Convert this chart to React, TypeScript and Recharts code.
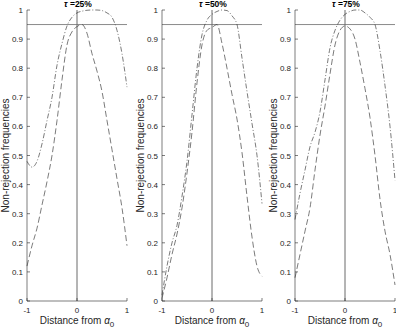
import { LineChart, Line, XAxis, YAxis, ReferenceLine } from "recharts";

const distance = [-1, -0.9, -0.8, -0.7, -0.6, -0.5, -0.4, -0.3, -0.2, -0.1, 0, 0.1, 0.2, 0.3, 0.4, 0.5, 0.6, 0.7, 0.8, 0.9, 1];

const tau25Dashed = [0.12, 0.19, 0.25, 0.33, 0.41, 0.5, 0.62, 0.76, 0.88, 0.925, 0.943, 0.95, 0.92, 0.85, 0.79, 0.72, 0.62, 0.52, 0.42, 0.32, 0.19];
const tau25DashDot = [0.48, 0.46, 0.48, 0.54, 0.62, 0.7, 0.81, 0.885, 0.945, 0.975, 0.99, 0.996, 0.999, 1.0, 1.0, 0.998, 0.99, 0.975, 0.93, 0.85, 0.735];

const tau50Dashed = [0.01, 0.08, 0.16, 0.23, 0.32, 0.44, 0.58, 0.75, 0.88, 0.93, 0.94, 0.95, 0.885, 0.8, 0.71, 0.625, 0.51, 0.36, 0.22, 0.12, 0.085];
const tau50DashDot = [0.02, 0.12, 0.2, 0.26, 0.36, 0.48, 0.64, 0.8, 0.915, 0.965, 0.985, 0.995, 1.0, 0.998, 0.98, 0.95, 0.835, 0.72, 0.61, 0.5, 0.335];

const tau75Dashed = [0.08, 0.16, 0.24, 0.32, 0.45, 0.57, 0.67, 0.78, 0.88, 0.93, 0.945, 0.935, 0.9, 0.82, 0.73, 0.63, 0.5, 0.35, 0.24, 0.16, 0.055];
const tau75DashDot = [0.28, 0.37, 0.45, 0.53, 0.58, 0.65, 0.76, 0.87, 0.93, 0.965, 0.985, 0.995, 1.0, 1.0, 0.99, 0.975, 0.95, 0.86, 0.74, 0.6, 0.415];

const panelTaus = ["25%", "50%", "75%"];
const yTicks = [0, 0.1, 0.2, 0.3, 0.4, 0.5, 0.6, 0.7, 0.8, 0.9, 1];
const xTicks = [-1, 0, 1];
const nominalLevel = 0.95;

const FONT = '"Liberation Sans", Arial, sans-serif';
const AXIS = "#262626";
const CURVE = "#333";

const YTick = (props: any) => {
  const { x, y, payload } = props;
  return (
    <g>
      <line x1={x + 4} y1={y} x2={x + 7} y2={y} stroke={AXIS} strokeWidth={0.6} />
      <text x={x} y={y} dy={3} textAnchor="end" fontSize={8} fontFamily={FONT} fill={AXIS}>
        {String(payload.value)}
      </text>
    </g>
  );
};

const XTick = (props: any) => {
  const { x, y, payload } = props;
  return (
    <g>
      <line x1={x} y1={y - 6} x2={x} y2={y - 9} stroke={AXIS} strokeWidth={0.6} />
      <text x={x} y={y} dy={6} textAnchor="middle" fontSize={8} fontFamily={FONT} fill={AXIS}>
        {String(payload.value)}
      </text>
    </g>
  );
};

const YLabel = (props: any) => {
  const vb = props.viewBox || { x: 0, y: 10, width: 27, height: 291 };
  const cx = vb.x + 5.5;
  const cy = vb.y + vb.height / 2;
  return (
    <text x={cx} y={cy} transform={`rotate(-90 ${cx} ${cy})`} textAnchor="middle" dominantBaseline="central" fontSize={10} fontFamily={FONT} fill={AXIS}>
      Non-rejection frequencies
    </text>
  );
};

const XLabel = (props: any) => {
  const vb = props.viewBox || { x: 27, y: 301, width: 100, height: 31 };
  const cx = vb.x + vb.width / 2;
  return (
    <text x={cx} y={vb.y + 23} textAnchor="middle" fontSize={10} fontFamily={FONT} fill={AXIS}>
      Distance from <tspan fontStyle="italic">α</tspan>
      <tspan dy={3} fontSize={8}>0</tspan>
    </text>
  );
};

const makeTitle = (tau: string) => (props: any) => {
  const vb = props.viewBox || { x: 77, y: 10 };
  return (
    <text x={vb.x + 1} y={6.5} textAnchor="middle" fontSize={8.5} fontWeight="bold" fontFamily={FONT} fill="#000">
      <tspan fontStyle="italic">τ</tspan> ={tau}
    </text>
  );
};

function Panel({ left, tau, dashed, dashDot }: { left: number; tau: string; dashed: number[]; dashDot: number[] }) {
  const rows = distance.map((d, i) => ({ d, dashed: dashed[i], dashDot: dashDot[i] }));
  return (
    <div style={{ position: "absolute", left, top: 0 }}>
      <LineChart width={130} height={332} data={rows} margin={{ top: 10, right: 3, bottom: 0, left: 0 }}>
        <XAxis
          type="number"
          dataKey="d"
          domain={[-1, 1]}
          ticks={xTicks}
          interval={0}
          height={31}
          tickSize={0}
          tickMargin={6}
          tickLine={false}
          tick={<XTick />}
          stroke={AXIS}
          strokeWidth={0.6}
          label={<XLabel />}
        />
        <YAxis
          type="number"
          domain={[0, 1]}
          ticks={yTicks}
          interval={0}
          width={27}
          tickSize={0}
          tickMargin={4}
          tickLine={false}
          tick={<YTick />}
          stroke={AXIS}
          strokeWidth={0.6}
          label={<YLabel />}
        />
        <ReferenceLine y={nominalLevel} stroke="#8a8a8a" strokeWidth={1} />
        <ReferenceLine x={0} stroke="#6a6a6a" strokeWidth={1} label={makeTitle(tau)} />
        <Line type="monotone" dataKey="dashed" stroke={CURVE} strokeWidth={0.65} strokeDasharray="6 3" dot={false} isAnimationActive={false} />
        <Line type="monotone" dataKey="dashDot" stroke={CURVE} strokeWidth={0.65} strokeDasharray="5 2 1 2" dot={false} isAnimationActive={false} />
      </LineChart>
    </div>
  );
}

export default function App() {
  return (
    <div style={{ position: "absolute", left: 0, top: 0, width: 396, height: 332, overflow: "hidden", background: "#fff" }}>
      <Panel left={0} tau={panelTaus[0]} dashed={tau25Dashed} dashDot={tau25DashDot} />
      <Panel left={135} tau={panelTaus[1]} dashed={tau50Dashed} dashDot={tau50DashDot} />
      <Panel left={268} tau={panelTaus[2]} dashed={tau75Dashed} dashDot={tau75DashDot} />
    </div>
  );
}
